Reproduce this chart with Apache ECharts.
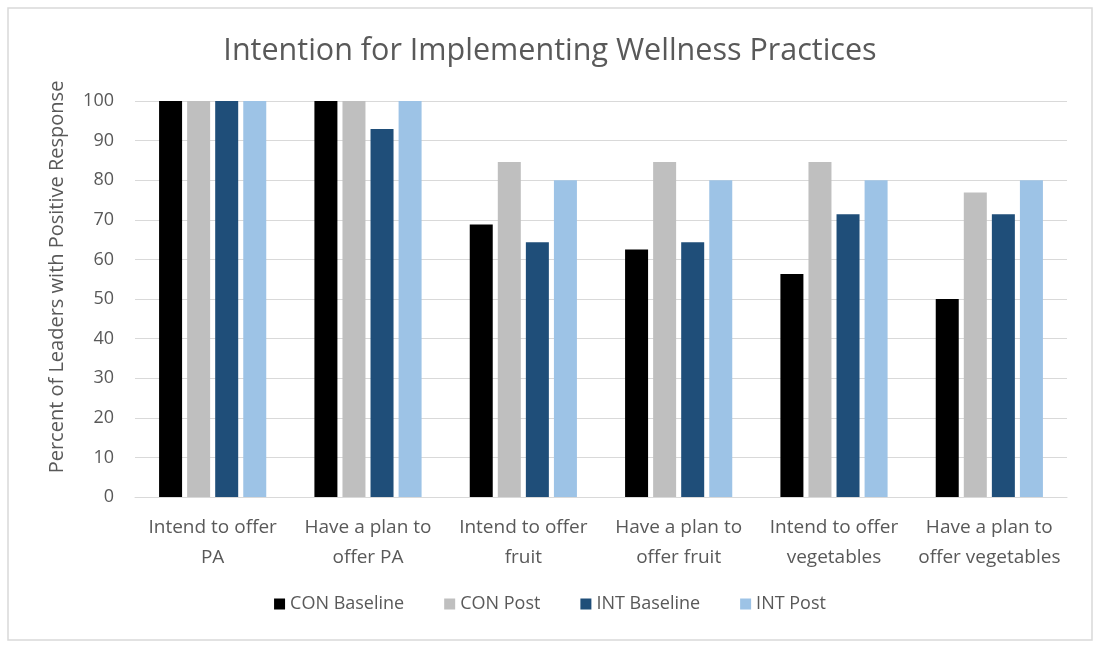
<!DOCTYPE html>
<html><head><meta charset="utf-8">
<script src="https://cdn.jsdelivr.net/npm/echarts@6/dist/echarts.min.js"></script>
<style>html,body{margin:0;padding:0;background:#fff}#c{width:1100px;height:648px}</style>
</head><body><div id="c"></div>
<script>
const categories = ["Intend to offer\nPA","Have a plan to\noffer PA","Intend to offer\nfruit","Have a plan to\noffer fruit","Intend to offer\nvegetables","Have a plan to\noffer vegetables"];
const conBaseline = [100, 100, 68.8, 62.5, 56.3, 50];
const conPost = [100, 100, 84.6, 84.6, 84.6, 76.9];
const intBaseline = [100, 92.9, 64.3, 64.3, 71.4, 71.4];
const intPost = [100, 100, 80, 80, 80, 80];
const yTicks = [0,10,20,30,40,50,60,70,80,90,100];

const FONT = "'Open Sans', sans-serif";
const chart = echarts.init(document.getElementById('c'));
const mk = (name, data, color) => ({name, type:'bar', data, barWidth:23, barGap:'22%', itemStyle:{color}});
chart.setOption({
  animation:false,
  textStyle:{fontFamily:FONT},
  graphic:[{type:'rect', shape:{x:8,y:8,width:1084,height:632}, style:{fill:'none', stroke:'#d9d9d9', lineWidth:1.5}, silent:true}],
  title:{text:'Intention for Implementing Wellness Practices', left:'center', top:31,
    textStyle:{fontFamily:FONT, fontSize:30.5, fontWeight:'normal', color:'#595959'}},
  legend:{bottom:30, left:'center', itemWidth:11, itemHeight:11, itemGap:40, icon:'rect',
    textStyle:{fontFamily:FONT, fontSize:18, color:'#595959'}},
  grid:{left:135, right:33, top:101, bottom:151},
  xAxis:{type:'category', data:categories,
    axisLine:{lineStyle:{color:'#d9d9d9'}}, axisTick:{show:false},
    axisLabel:{fontFamily:FONT, fontSize:19, color:'#595959', lineHeight:30, margin:16, interval:0}},
  yAxis:{type:'value', min:0, max:100, interval:10,
    name:'Percent of Leaders with Positive Response', nameLocation:'middle', nameGap:68,
    nameTextStyle:{fontFamily:FONT, fontSize:20, color:'#595959', padding:[0,0,0,44]},
    axisLabel:{fontFamily:FONT, fontSize:18, color:'#595959', margin:21},
    splitLine:{lineStyle:{color:'#d9d9d9'}}},
  series:[
    mk('CON Baseline', conBaseline, '#000000'),
    mk('CON Post', conPost, '#bfbfbf'),
    mk('INT Baseline', intBaseline, '#1f4e79'),
    mk('INT Post', intPost, '#9dc3e6')
  ]
});
</script></body></html>
